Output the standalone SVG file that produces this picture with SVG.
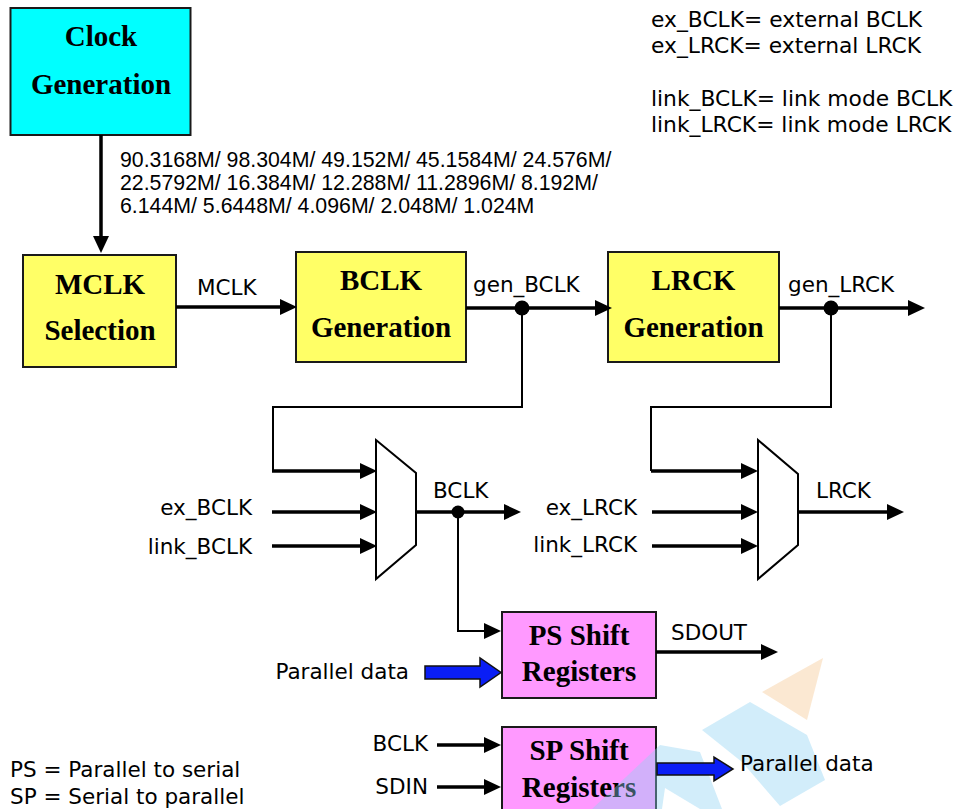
<svg xmlns="http://www.w3.org/2000/svg" width="957" height="809" viewBox="0 0 957 809">
<style>
.box{stroke:#1a1a1a;stroke-width:2}
.bt{font-family:"Liberation Serif","Times New Roman",serif;font-weight:bold;font-size:29px;fill:#000;text-anchor:middle}
.lb{font-family:"DejaVu Sans",Verdana,sans-serif;font-size:21.5px;fill:#000}
.lg{font-size:21.8px}
.fq{font-family:"Liberation Sans",Arial,sans-serif;font-size:21.3px;fill:#000}
.thick{fill:none;stroke:#000;stroke-width:3.5}
.thin{fill:none;stroke:#000;stroke-width:2}
.blue{fill:#0a1ef5;stroke:#111;stroke-width:1.5}
</style>
<defs>
<marker id="ah" markerUnits="userSpaceOnUse" markerWidth="17" markerHeight="17" refX="8" refY="8" orient="auto" viewBox="0 0 17 16">
<path d="M0,0 L17,8 L0,16 z" fill="#000"/>
</marker>
</defs>
<rect width="957" height="809" fill="#fff"/>

<g id="clock-gen">
<rect class="box" x="10.5" y="8" width="180" height="127" fill="#00FFFF"/>
<text class="bt" x="101" y="46">Clock</text>
<text class="bt" x="101" y="94">Generation</text>
</g>
<g id="mclk-sel">
<rect class="box" x="23" y="255" width="153" height="112" fill="#FFFF66"/>
<text class="bt" x="100" y="294">MCLK</text>
<text class="bt" x="100" y="340">Selection</text>
</g>
<g id="bclk-gen">
<rect class="box" x="296" y="252" width="170" height="110" fill="#FFFF66"/>
<text class="bt" x="381" y="290">BCLK</text>
<text class="bt" x="381" y="337">Generation</text>
</g>
<g id="lrck-gen">
<rect class="box" x="608" y="252" width="171" height="110" fill="#FFFF66"/>
<text class="bt" x="693.5" y="290">LRCK</text>
<text class="bt" x="693.5" y="337">Generation</text>
</g>
<g id="bclk-mux">
<polygon points="376,440 416,473 416,545 376,579" fill="#fff" stroke="#000" stroke-width="2"/>
</g>
<g id="lrck-mux">
<polygon points="758,440 798,474 798,545 758,579" fill="#fff" stroke="#000" stroke-width="2"/>
</g>
<g id="ps-shift">
<rect class="box" x="502" y="612" width="154" height="86" fill="#FF99FF"/>
<text class="bt" x="579" y="645">PS Shift</text>
<text class="bt" x="579" y="681">Registers</text>
</g>
<g id="sp-shift">
<rect class="box" x="502" y="727" width="154" height="90" fill="#FF99FF"/>
<text class="bt" x="579" y="760">SP Shift</text>
<text class="bt" x="579" y="797">Registers</text>
</g>

<g id="watermark">
<polygon points="762,692 823,658 807,720" fill="#F5C68E" opacity="0.4"/>
<polygon points="702,730 750,702 807,735 825,780 780,806 742,762" fill="#8FD3F2" opacity="0.4"/>
<polygon points="592,809 660,745 700,752 722,809 700,809 665,788 662,809" fill="#8FD3F2" opacity="0.4"/>
</g>

<g id="connectors">
<path class="thick" d="M101,135 V244" stroke-width="4" marker-end="url(#ah)"/>
<path class="thick" d="M176,307 H288" marker-end="url(#ah)"/>
<path class="thick" d="M466,308 H603" marker-end="url(#ah)"/>
<path class="thick" d="M779,308 H916" marker-end="url(#ah)"/>
<path class="thin" d="M522,308 V407 H273 V471"/>
<path class="thick" d="M272,471 H368" marker-end="url(#ah)"/>
<path class="thick" d="M272,512 H368" marker-end="url(#ah)"/>
<path class="thick" d="M272,546 H368" marker-end="url(#ah)"/>
<path class="thick" d="M416,512 H512" marker-end="url(#ah)"/>
<path class="thin" d="M831,308 V407 H651 V471"/>
<path class="thick" d="M651,471 H749" marker-end="url(#ah)"/>
<path class="thick" d="M652,512 H749" marker-end="url(#ah)"/>
<path class="thick" d="M652,546 H749" marker-end="url(#ah)"/>
<path class="thick" d="M798,512 H895" marker-end="url(#ah)"/>
<path class="thin" d="M458,512 V631 H492" />
<path class="thick" d="M490,631 H492" marker-end="url(#ah)"/>
<path class="thick" d="M656,652 H769" marker-end="url(#ah)"/>
<path class="thick" d="M437,745 H492" marker-end="url(#ah)"/>
<path class="thick" d="M437,787 H492" marker-end="url(#ah)"/>
<polygon class="blue" points="425,666 480,666 480,658 501,672.5 480,687 480,679 425,679"/>
<polygon class="blue" points="657,763 714,763 714,757 733,769 714,781 714,775 657,775"/>
<circle cx="522" cy="308" r="7.5" fill="#000"/>
<circle cx="831" cy="308" r="7.5" fill="#000"/>
<circle cx="458" cy="512" r="6.5" fill="#000"/>
</g>

<g id="labels">
<text class="fq" x="120" y="167">90.3168M/ 98.304M/ 49.152M/ 45.1584M/ 24.576M/</text>
<text class="fq" x="120" y="190">22.5792M/ 16.384M/ 12.288M/ 11.2896M/ 8.192M/</text>
<text class="fq" x="120" y="213">6.144M/ 5.6448M/ 4.096M/ 2.048M/ 1.024M</text>
<text class="lb lg" x="651" y="27">ex_BCLK= external BCLK</text>
<text class="lb lg" x="651" y="53">ex_LRCK= external LRCK</text>
<text class="lb lg" x="651" y="106">link_BCLK= link mode BCLK</text>
<text class="lb lg" x="651" y="132">link_LRCK= link mode LRCK</text>
<text class="lb" x="197" y="295">MCLK</text>
<text class="lb" x="473" y="292">gen_BCLK</text>
<text class="lb" x="788" y="292">gen_LRCK</text>
<text class="lb" x="252" y="515" text-anchor="end">ex_BCLK</text>
<text class="lb" x="252" y="554" text-anchor="end">link_BCLK</text>
<text class="lb" x="433" y="498">BCLK</text>
<text class="lb" x="637" y="515" text-anchor="end">ex_LRCK</text>
<text class="lb" x="637" y="552" text-anchor="end">link_LRCK</text>
<text class="lb" x="816" y="498">LRCK</text>
<text class="lb" x="671" y="640">SDOUT</text>
<text class="lb" x="409" y="679" text-anchor="end">Parallel data</text>
<text class="lb" x="428" y="751" text-anchor="end">BCLK</text>
<text class="lb" x="428" y="794" text-anchor="end">SDIN</text>
<text class="lb" x="740" y="771">Parallel data</text>
<text class="lb" x="10" y="777">PS = Parallel to serial</text>
<text class="lb" x="10" y="804">SP = Serial to parallel</text>
</g>
</svg>
